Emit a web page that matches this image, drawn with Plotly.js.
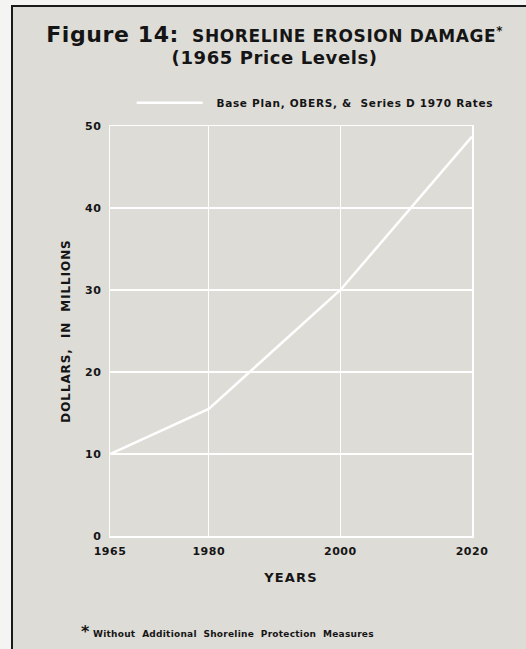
<!DOCTYPE html>
<html>
<head>
<meta charset="utf-8">
<script src="https://cdn.plot.ly/plotly-3.0.1.min.js"></script>
<style>
  html, body { margin: 0; padding: 0; background: #f4f4f2; overflow: hidden; }
  #wrap { position: absolute; left: 11px; top: 5px; width: 513px; height: 642px;
          border-left: 2px solid #1a1a1a; border-top: 2px solid #1a1a1a; }
  #chart { width: 513px; height: 642px; }
  .gtitle { letter-spacing: 0.6px; }
  .legendtext { letter-spacing: 0.7px; }
  .annotation-text { letter-spacing: 0.25px; }
  .ytitle { letter-spacing: 0.9px; }
  .xtitle { letter-spacing: 1.2px; }
  .xtick text, .ytick text { letter-spacing: 0.5px; }
</style>
</head>
<body>
<div id="wrap"><div id="chart"></div></div>
<script>
const years = [1965, 1980, 2000, 2020];
const damage = [10, 15.5, 30, 48.7];
const seriesName = '&nbsp;&nbsp;Base Plan, OBERS, &amp;  Series D 1970 Rates';
const xTicks = [1965, 1980, 2000, 2020];
const yTicks = [0, 10, 20, 30, 40, 50];

const bg = '#dedcd7';
const ink = '#151515';
const F = 'DejaVu Sans';

const trace = {
  x: years, y: damage, type: 'scatter', mode: 'lines', name: seriesName,
  line: { color: '#ffffff', width: 2.5 }, hoverinfo: 'skip'
};

const layout = {
  width: 513, height: 642,
  paper_bgcolor: bg, plot_bgcolor: bg,
  margin: { l: 97, r: 54, t: 119, b: 113 },
  title: {
    text: '<span style="font-size:22px">Figure 14:</span>  SHORELINE EROSION DAMAGE<sup>*</sup><br><span style="font-size:18px">(1965 Price Levels)</span>',
    font: { family: F, size: 17, color: ink, weight: 'bold' },
    x: 0.51, xanchor: 'center', y: 0.945, yanchor: 'top'
  },
  showlegend: true,
  legend: {
    x: 0.06, y: 1.057, xanchor: 'left', yanchor: 'middle',
    bgcolor: 'rgba(0,0,0,0)', itemwidth: 66,
    font: { family: F, size: 10.5, color: ink, weight: 'bold' }
  },
  xaxis: {
    range: [1965, 2020], tickvals: xTicks, ticktext: xTicks.map(String),
    showgrid: true, gridcolor: '#ffffff', gridwidth: 1.5,
    showline: true, linecolor: '#ffffff', linewidth: 1.5, mirror: true,
    zeroline: false, ticks: '', ticklen: 0, ticklabelstandoff: 4,
    tickfont: { family: F, size: 11, color: ink, weight: 'bold' },
    title: { text: 'YEARS', font: { family: F, size: 13, color: ink, weight: 'bold' }, standoff: 16 }
  },
  yaxis: {
    range: [0, 50], tickvals: yTicks, ticktext: yTicks.map(String),
    showgrid: true, gridcolor: '#ffffff', gridwidth: 1.5,
    showline: true, linecolor: '#ffffff', linewidth: 1.5, mirror: true,
    zeroline: false, ticks: '', ticklen: 0, ticklabelstandoff: 5,
    tickfont: { family: F, size: 11, color: ink, weight: 'bold' },
    title: { text: 'DOLLARS,  IN  MILLIONS', font: { family: F, size: 12, color: ink, weight: 'bold' }, standoff: 12 }
  },
  annotations: [
    {
      xref: 'paper', yref: 'paper', x: -0.085, y: -0.232, xanchor: 'left', yanchor: 'middle',
      showarrow: false,
      text: '<span style="font-size:16px">*</span> Without  Additional  Shoreline  Protection  Measures',
      font: { family: F, size: 9, color: ink, weight: 'bold' }
    }
  ]
};

Plotly.newPlot('chart', [trace], layout, { displayModeBar: false, staticPlot: true });
</script>
</body>
</html>
